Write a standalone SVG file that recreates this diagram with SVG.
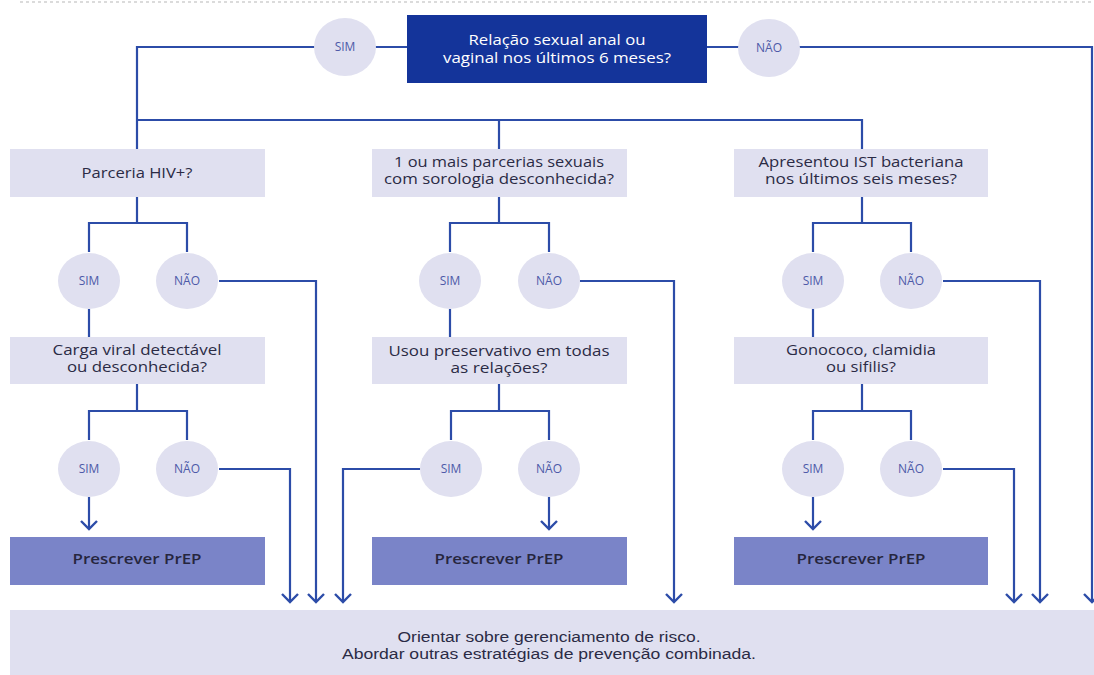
<svg xmlns="http://www.w3.org/2000/svg" width="1094" height="675" viewBox="0 0 1094 675">
<style>
.bg{fill:#ffffff}
.q{fill:#e0e0f0}
.top{fill:#14349a}
.rx{fill:#7a84c8}
.c{fill:#e0e0f0}
.ln{fill:none;stroke:#2c4ca8;stroke-width:2.2}
.t{font-family:"Open Sans","Liberation Sans",sans-serif;font-size:14px;fill:#2b2b45;text-anchor:middle}
.tp{font-family:"Open Sans","Liberation Sans",sans-serif;font-size:14px;font-weight:600;fill:#26263e;text-anchor:middle}
.tw{font-family:"Open Sans","Liberation Sans",sans-serif;font-size:14px;fill:#ffffff;text-anchor:middle}
.tc{font-family:"Open Sans","Liberation Sans",sans-serif;font-size:12px;fill:#4d5aa8;text-anchor:middle}
.tb{font-family:"Liberation Sans","Open Sans",sans-serif;font-size:14px;fill:#2b2b45;text-anchor:middle}
</style>
<defs>
<marker id="arr" viewBox="-10 -10 20 20" refX="0" refY="0" markerWidth="20" markerHeight="20" markerUnits="userSpaceOnUse" orient="auto" overflow="visible">
<path d="M-8,-8 L0,0 L-8,8" fill="none" stroke="#2c4ca8" stroke-width="2.4"/>
</marker>
</defs>
<rect class="bg" x="0" y="0" width="1094" height="675"/>
<line x1="20" y1="2" x2="1094" y2="2" stroke="#d0d0d0" stroke-width="1.5" stroke-dasharray="3,3"/>
<g id="connectors" class="ln">
<path d="M407,47 H137 V149"/>
<path d="M137,120 H862 V149"/>
<path d="M499,120 V149"/>
<path d="M707,47 H1092 V602" marker-end="url(#arr)"/>
<path d="M137,197 V223"/>
<path d="M89,252 V223 H187 V252"/>
<path d="M89,309 V337"/>
<path d="M219,281 H316 V602" marker-end="url(#arr)"/>
<path d="M137,384 V411"/>
<path d="M89,440 V411 H187 V440"/>
<path d="M89,497 V529" marker-end="url(#arr)"/>
<path d="M219,469 H290 V602" marker-end="url(#arr)"/>
<path d="M499,197 V223"/>
<path d="M450,252 V223 H549 V252"/>
<path d="M450,309 V337"/>
<path d="M580,281 H674 V602" marker-end="url(#arr)"/>
<path d="M499,384 V411"/>
<path d="M451,440 V411 H549 V440"/>
<path d="M549,497 V529" marker-end="url(#arr)"/>
<path d="M420,469 H343 V602" marker-end="url(#arr)"/>
<path d="M862,197 V223"/>
<path d="M813,252 V223 H911 V252"/>
<path d="M813,309 V337"/>
<path d="M943,281 H1040 V602" marker-end="url(#arr)"/>
<path d="M862,384 V411"/>
<path d="M813,440 V411 H911 V440"/>
<path d="M813,497 V529" marker-end="url(#arr)"/>
<path d="M943,469 H1014 V602" marker-end="url(#arr)"/>
</g>
<g id="n_top">
<rect class="top" x="407" y="15" width="300" height="68"/>
<text class="tw" x="557" y="45" textLength="177" lengthAdjust="spacingAndGlyphs">Relação sexual anal ou</text>
<text class="tw" x="557" y="63" textLength="228" lengthAdjust="spacingAndGlyphs">vaginal nos últimos 6 meses?</text>
</g>
<g id="n_top_sim"><ellipse class="c" cx="345" cy="47" rx="31" ry="29"/><text class="tc" x="345" y="51">SIM</text></g>
<g id="n_top_nao"><ellipse class="c" cx="769" cy="48" rx="31" ry="29"/><text class="tc" x="769" y="52">NÃO</text></g>

<g id="n_parceria">
<rect class="q" x="10" y="149" width="255" height="48"/>
<text class="t" x="137" y="178" textLength="111" lengthAdjust="spacingAndGlyphs">Parceria HIV+?</text>
</g>
<g id="n_l_sim1"><ellipse class="c" cx="89" cy="281" rx="31" ry="28"/><text class="tc" x="89" y="285">SIM</text></g>
<g id="n_l_nao1"><ellipse class="c" cx="187" cy="281" rx="31" ry="28"/><text class="tc" x="187" y="285">NÃO</text></g>
<g id="n_carga">
<rect class="q" x="10" y="337" width="255" height="47"/>
<text class="t" x="137" y="355" textLength="169" lengthAdjust="spacingAndGlyphs">Carga viral detectável</text>
<text class="t" x="137" y="372" textLength="140" lengthAdjust="spacingAndGlyphs">ou desconhecida?</text>
</g>
<g id="n_l_sim2"><ellipse class="c" cx="89" cy="469" rx="31" ry="28"/><text class="tc" x="89" y="473">SIM</text></g>
<g id="n_l_nao2"><ellipse class="c" cx="187" cy="469" rx="31" ry="28"/><text class="tc" x="187" y="473">NÃO</text></g>
<g id="n_prep1">
<rect class="rx" x="10" y="537" width="255" height="48"/>
<text class="tp" x="137" y="564" textLength="129" lengthAdjust="spacingAndGlyphs">Prescrever PrEP</text>
</g>

<g id="n_parcerias">
<rect class="q" x="372" y="149" width="255" height="48"/>
<text class="t" x="499" y="167" textLength="210" lengthAdjust="spacingAndGlyphs">1 ou mais parcerias sexuais</text>
<text class="t" x="499" y="184" textLength="230" lengthAdjust="spacingAndGlyphs">com sorologia desconhecida?</text>
</g>
<g id="n_c_sim1"><ellipse class="c" cx="450" cy="281" rx="31" ry="28"/><text class="tc" x="450" y="285">SIM</text></g>
<g id="n_c_nao1"><ellipse class="c" cx="549" cy="281" rx="31" ry="28"/><text class="tc" x="549" y="285">NÃO</text></g>
<g id="n_preserv">
<rect class="q" x="372" y="337" width="255" height="47"/>
<text class="t" x="499" y="356" textLength="221" lengthAdjust="spacingAndGlyphs">Usou preservativo em todas</text>
<text class="t" x="499" y="373" textLength="97" lengthAdjust="spacingAndGlyphs">as relações?</text>
</g>
<g id="n_c_sim2"><ellipse class="c" cx="451" cy="469" rx="31" ry="28"/><text class="tc" x="451" y="473">SIM</text></g>
<g id="n_c_nao2"><ellipse class="c" cx="549" cy="469" rx="31" ry="28"/><text class="tc" x="549" y="473">NÃO</text></g>
<g id="n_prep2">
<rect class="rx" x="372" y="537" width="255" height="48"/>
<text class="tp" x="499" y="564" textLength="129" lengthAdjust="spacingAndGlyphs">Prescrever PrEP</text>
</g>

<g id="n_ist">
<rect class="q" x="734" y="149" width="254" height="48"/>
<text class="t" x="861" y="167" textLength="205" lengthAdjust="spacingAndGlyphs">Apresentou IST bacteriana</text>
<text class="t" x="861" y="184" textLength="192" lengthAdjust="spacingAndGlyphs">nos últimos seis meses?</text>
</g>
<g id="n_r_sim1"><ellipse class="c" cx="813" cy="281" rx="31" ry="28"/><text class="tc" x="813" y="285">SIM</text></g>
<g id="n_r_nao1"><ellipse class="c" cx="911" cy="281" rx="31" ry="28"/><text class="tc" x="911" y="285">NÃO</text></g>
<g id="n_gono">
<rect class="q" x="734" y="337" width="254" height="47"/>
<text class="t" x="861" y="355" textLength="150" lengthAdjust="spacingAndGlyphs">Gonococo, clamidia</text>
<text class="t" x="861" y="372" textLength="70" lengthAdjust="spacingAndGlyphs">ou sifilis?</text>
</g>
<g id="n_r_sim2"><ellipse class="c" cx="813" cy="469" rx="31" ry="28"/><text class="tc" x="813" y="473">SIM</text></g>
<g id="n_r_nao2"><ellipse class="c" cx="911" cy="469" rx="31" ry="28"/><text class="tc" x="911" y="473">NÃO</text></g>
<g id="n_prep3">
<rect class="rx" x="734" y="537" width="254" height="48"/>
<text class="tp" x="861" y="564" textLength="129" lengthAdjust="spacingAndGlyphs">Prescrever PrEP</text>
</g>

<g id="n_orientar">
<rect class="q" x="10" y="610" width="1084" height="65"/>
<text class="tb" x="549" y="642" textLength="303" lengthAdjust="spacingAndGlyphs">Orientar sobre gerenciamento de risco.</text>
<text class="tb" x="549" y="659" textLength="414" lengthAdjust="spacingAndGlyphs">Abordar outras estratégias de prevenção combinada.</text>
</g>
</svg>
